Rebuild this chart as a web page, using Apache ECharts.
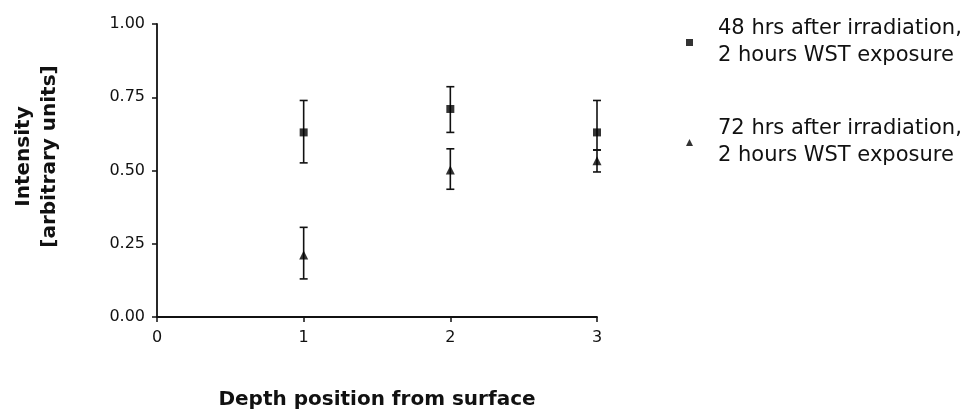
<!DOCTYPE html>
<html>
<head>
<meta charset="utf-8">
<script src="https://cdn.jsdelivr.net/npm/echarts@6/dist/echarts.min.js"></script>
<style>
html,body{margin:0;padding:0;background:#fff;}
#main{width:966px;height:414px;}
</style>
</head>
<body>
<div id="main"></div>
<script>
// Data
var depth = [1, 2, 3];
var xTicks = [0, 1, 2, 3];
var yTicks = [0, 0.25, 0.5, 0.75, 1.0];

var name48 = '48 hrs after irradiation,\n2 hours WST exposure';
var mean48 = [0.630, 0.710, 0.630];
var high48 = [0.739, 0.786, 0.739];
var low48  = [0.526, 0.630, 0.570];

var name72 = '72 hrs after irradiation,\n2 hours WST exposure';
var mean72 = [0.212, 0.502, 0.533];
var high72 = [0.306, 0.574, 0.570];
var low72  = [0.130, 0.436, 0.495];

var TXT = '#111';
var FONT = 'DejaVu Sans';

function zip2(xs, ys) { return xs.map(function (x, i) { return [x, ys[i]]; }); }
function zip3(xs, lo, hi) { return xs.map(function (x, i) { return [x, lo[i], hi[i]]; }); }

function errRender(params, api) {
  var x = api.value(0);
  var pLo = api.coord([x, api.value(1)]);
  var pHi = api.coord([x, api.value(2)]);
  var hw = 4;
  var st = { stroke: '#111', lineWidth: 1.6 };
  return {
    type: 'group',
    children: [
      { type: 'line', shape: { x1: pLo[0], y1: pLo[1], x2: pHi[0], y2: pHi[1] }, style: st },
      { type: 'line', shape: { x1: pLo[0] - hw, y1: pLo[1], x2: pLo[0] + hw, y2: pLo[1] }, style: st },
      { type: 'line', shape: { x1: pHi[0] - hw, y1: pHi[1], x2: pHi[0] + hw, y2: pHi[1] }, style: st }
    ]
  };
}

var chart = echarts.init(document.getElementById('main'), null, { renderer: 'canvas' });
chart.setOption({
  backgroundColor: '#fff',
  animation: false,
  grid: { left: 157, right: 369, top: 24, bottom: 97, containLabel: false, outerBoundsMode: 'none' },
  legend: {
    orient: 'vertical',
    left: 686,
    top: 2,
    padding: 0,
    itemWidth: 7,
    itemHeight: 7,
    itemGap: 19,
    selectedMode: false,
    data: [
      { name: name48, icon: 'rect' },
      { name: name72, icon: 'triangle' }
    ],
    textStyle: {
      color: TXT, fontFamily: FONT, fontSize: 21, lineHeight: 27,
      padding: [27, 0, 0, 20]
    }
  },
  xAxis: {
    type: 'value',
    min: xTicks[0], max: xTicks[xTicks.length - 1], interval: 1,
    name: 'Depth position from surface',
    nameLocation: 'middle',
    nameGap: 73,
    nameTextStyle: { color: TXT, fontFamily: FONT, fontWeight: 'bold', fontSize: 20 },
    axisLine: { lineStyle: { color: '#111', width: 1.8 } },
    axisTick: { length: 5, lineStyle: { color: '#111', width: 1.5 } },
    axisLabel: { color: TXT, fontFamily: FONT, fontSize: 16, margin: 13 },
    splitLine: { show: false }
  },
  yAxis: {
    type: 'value',
    min: yTicks[0], max: yTicks[yTicks.length - 1], interval: 0.25,
    name: 'Intensity\n[arbitrary units]',
    nameLocation: 'middle',
    nameGap: 94,
    nameRotate: 90,
    nameTextStyle: {
      color: TXT, fontFamily: FONT, fontWeight: 'bold', fontSize: 20, lineHeight: 26,
      padding: [0, 0, 0, 28]
    },
    axisLine: { show: true, lineStyle: { color: '#111', width: 1.8 } },
    axisTick: { show: true, length: 5, lineStyle: { color: '#111', width: 1.5 } },
    axisLabel: {
      color: TXT, fontFamily: FONT, fontSize: 16, margin: 12,
      formatter: function (v) { return v.toFixed(2); }
    },
    splitLine: { show: false }
  },
  series: [
    {
      type: 'custom', name: 'err48', renderItem: errRender,
      data: zip3(depth, low48, high48), z: 2, silent: true
    },
    {
      type: 'custom', name: 'err72', renderItem: errRender,
      data: zip3(depth, low72, high72), z: 2, silent: true
    },
    {
      type: 'scatter', name: name48, symbol: 'rect', symbolSize: 8,
      itemStyle: { color: '#000' }, data: zip2(depth, mean48), z: 3
    },
    {
      type: 'scatter', name: name72, symbol: 'triangle', symbolSize: 9,
      itemStyle: { color: '#000' }, data: zip2(depth, mean72), z: 3
    }
  ]
});
</script>
</body>
</html>
